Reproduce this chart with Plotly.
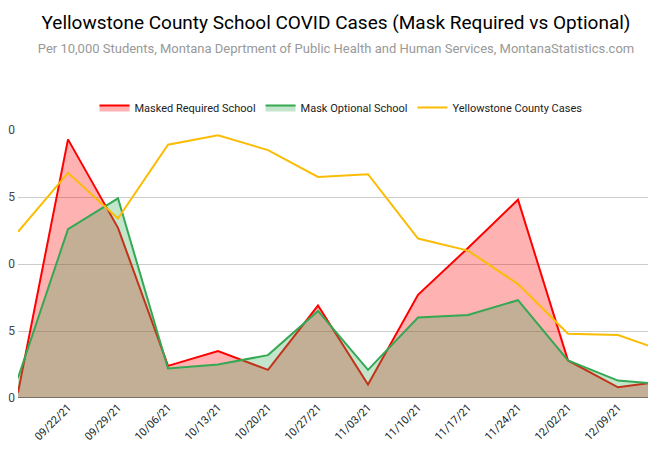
import plotly.graph_objects as go

dates = ["09/15/21","09/22/21","09/29/21","10/06/21","10/13/21","10/20/21","10/27/21",
         "11/03/21","11/10/21","11/17/21","11/24/21","12/02/21","12/09/21","12/16/21"]
masked = [0.4,19.3,12.7,2.4,3.5,2.1,6.9,1.0,7.7,11.2,14.8,2.8,0.8,1.3]
optional = [1.5,12.6,14.9,2.2,2.5,3.2,6.5,2.1,6.0,6.2,7.3,2.8,1.3,1.0]
county = [12.4,16.8,13.4,18.9,19.6,18.5,16.5,16.7,11.9,11.0,8.5,4.8,4.7,3.4]

x = list(range(len(dates)))
fig = go.Figure()
fig.add_trace(go.Scatter(x=x, y=masked, name="Masked Required School", mode="lines",
                         line=dict(color="#ff0000", width=2), fill="tozeroy",
                         fillcolor="rgba(255,0,0,0.3)"))
fig.add_trace(go.Scatter(x=x, y=optional, name="Mask Optional School", mode="lines",
                         line=dict(color="#34a853", width=2), fill="tozeroy",
                         fillcolor="rgba(52,168,83,0.3)"))
fig.add_trace(go.Scatter(x=x, y=county, name="Yellowstone County Cases", mode="lines",
                         line=dict(color="#fbbc04", width=2)))
fig.update_layout(
    width=656, height=459, plot_bgcolor="white", paper_bgcolor="white",
    margin=dict(l=10, r=0, t=122, b=69),
    font=dict(family="Roboto, Arial", color="#222"),
    title=dict(text="Yellowstone County School COVID Cases (Mask Required vs Optional)"
               "<br><span style='font-size:13px;color:#999'>Per 10,000 Students, Montana Deprtment of Public Health and Human Services, MontanaStatistics.com</span>",
               x=0.5, xanchor="center", y=0.955, yanchor="top", font=dict(size=19, color="#000")),
    legend=dict(orientation="h", x=0.5, xanchor="center", y=1.03, yanchor="bottom",
                font=dict(size=11)),
    xaxis=dict(tickmode="array", tickvals=x, ticktext=dates, range=[0, 12.92],
               tickangle=-45, showgrid=False, tickfont=dict(size=11), zeroline=False,
               showline=False, automargin=False),
    yaxis=dict(range=[0, 20], tickvals=[0,5,10,15,20], gridcolor="#ccc", zeroline=False,
               tickfont=dict(size=12, color="#444"), ticklabelstandoff=2, automargin=False),
)
fig.add_shape(type="line", xref="paper", yref="y", x0=0, x1=1, y0=0, y1=0,
              line=dict(color="#333", width=1))
fig.write_html("out.html")
